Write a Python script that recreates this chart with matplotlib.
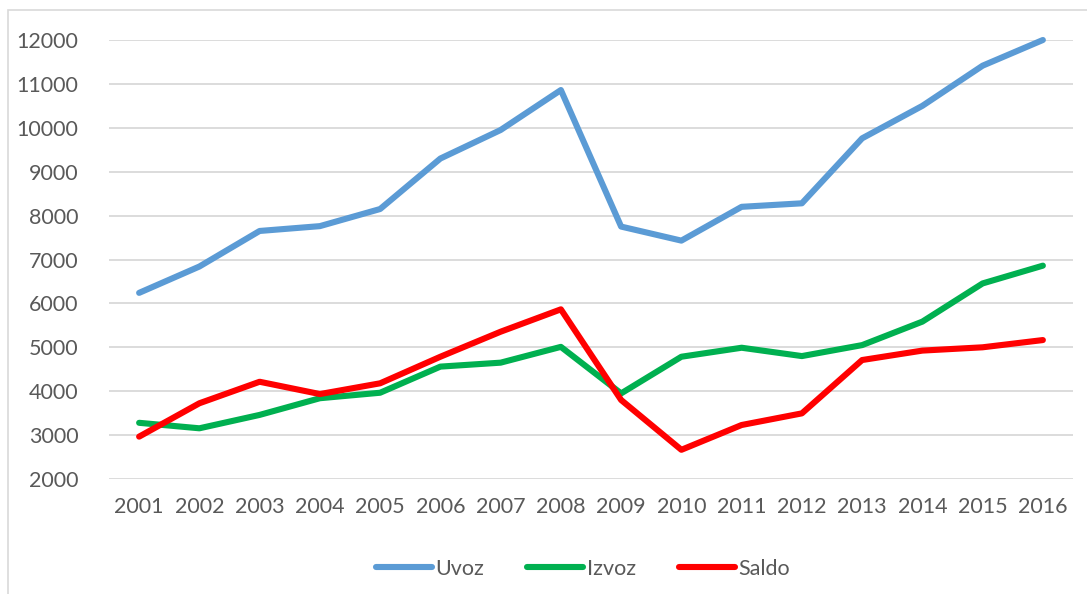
import matplotlib
matplotlib.use('Agg')
import matplotlib.pyplot as plt
from matplotlib.patches import Rectangle

# godine i vrijednosti (uvoz, izvoz, saldo)
years = [str(y) for y in range(2001, 2017)]
uvoz = [6240, 6840, 7650, 7760, 8150, 9300, 9950, 10860,
        7750, 7430, 8200, 8280, 9760, 10500, 11415, 12000]
izvoz = [3280, 3155, 3460, 3840, 3965, 4560, 4650, 5010,
         3950, 4785, 4990, 4800, 5050, 5585, 6455, 6860]
saldo = [2965, 3725, 4215, 3935, 4180, 4785, 5355, 5865,
         3800, 2665, 3230, 3495, 4710, 4925, 5000, 5165]

txt_color = '#595959'
grid_color = '#D9D9D9'
plt.rcParams['font.family'] = ['Lato', 'DejaVu Sans']

fig = plt.figure(figsize=(10.87, 5.94), dpi=100)
ax = fig.add_axes([109/1087, 1 - 479/594, (1073 - 109)/1087, (479 - 40)/594])

# okvir oko grafikona
fig.patches.append(Rectangle((8/1087, -0.1), 1.2, 1 - 10/594 + 0.1,
                             transform=fig.transFigure, fill=False,
                             edgecolor=grid_color, linewidth=1.2))

x = range(len(years))
ax.plot(x, uvoz, color='#5B9BD5', lw=4.4, label='Uvoz', clip_on=False, solid_capstyle='round')
ax.plot(x, izvoz, color='#00B050', lw=4.4, label='Izvoz', clip_on=False, solid_capstyle='round')
ax.plot(x, saldo, color='#FF0000', lw=4.4, label='Saldo', clip_on=False, solid_capstyle='round')

ax.set_xlim(-0.5, len(years) - 0.5)
ax.set_ylim(2000, 12000)
ax.set_yticks(range(2000, 12001, 1000))
ax.set_xticks(list(x))
ax.set_xticklabels(years)
ax.grid(axis='y', color=grid_color, linewidth=1.3)
ax.set_axisbelow(True)
for s in ax.spines.values():
    s.set_visible(False)
ax.tick_params(axis='both', length=0, labelsize=15.5, colors=txt_color)
ax.tick_params(axis='y', pad=22)
ax.tick_params(axis='x', pad=13)

leg = fig.legend(loc='center', bbox_to_anchor=(583/1087, 1 - 569/594), ncol=3,
                 frameon=False, fontsize=15.5, handlelength=2.6,
                 handletextpad=0.15, columnspacing=2.0)
for t in leg.get_texts():
    t.set_color(txt_color)

fig.savefig('out.png', dpi=100)
